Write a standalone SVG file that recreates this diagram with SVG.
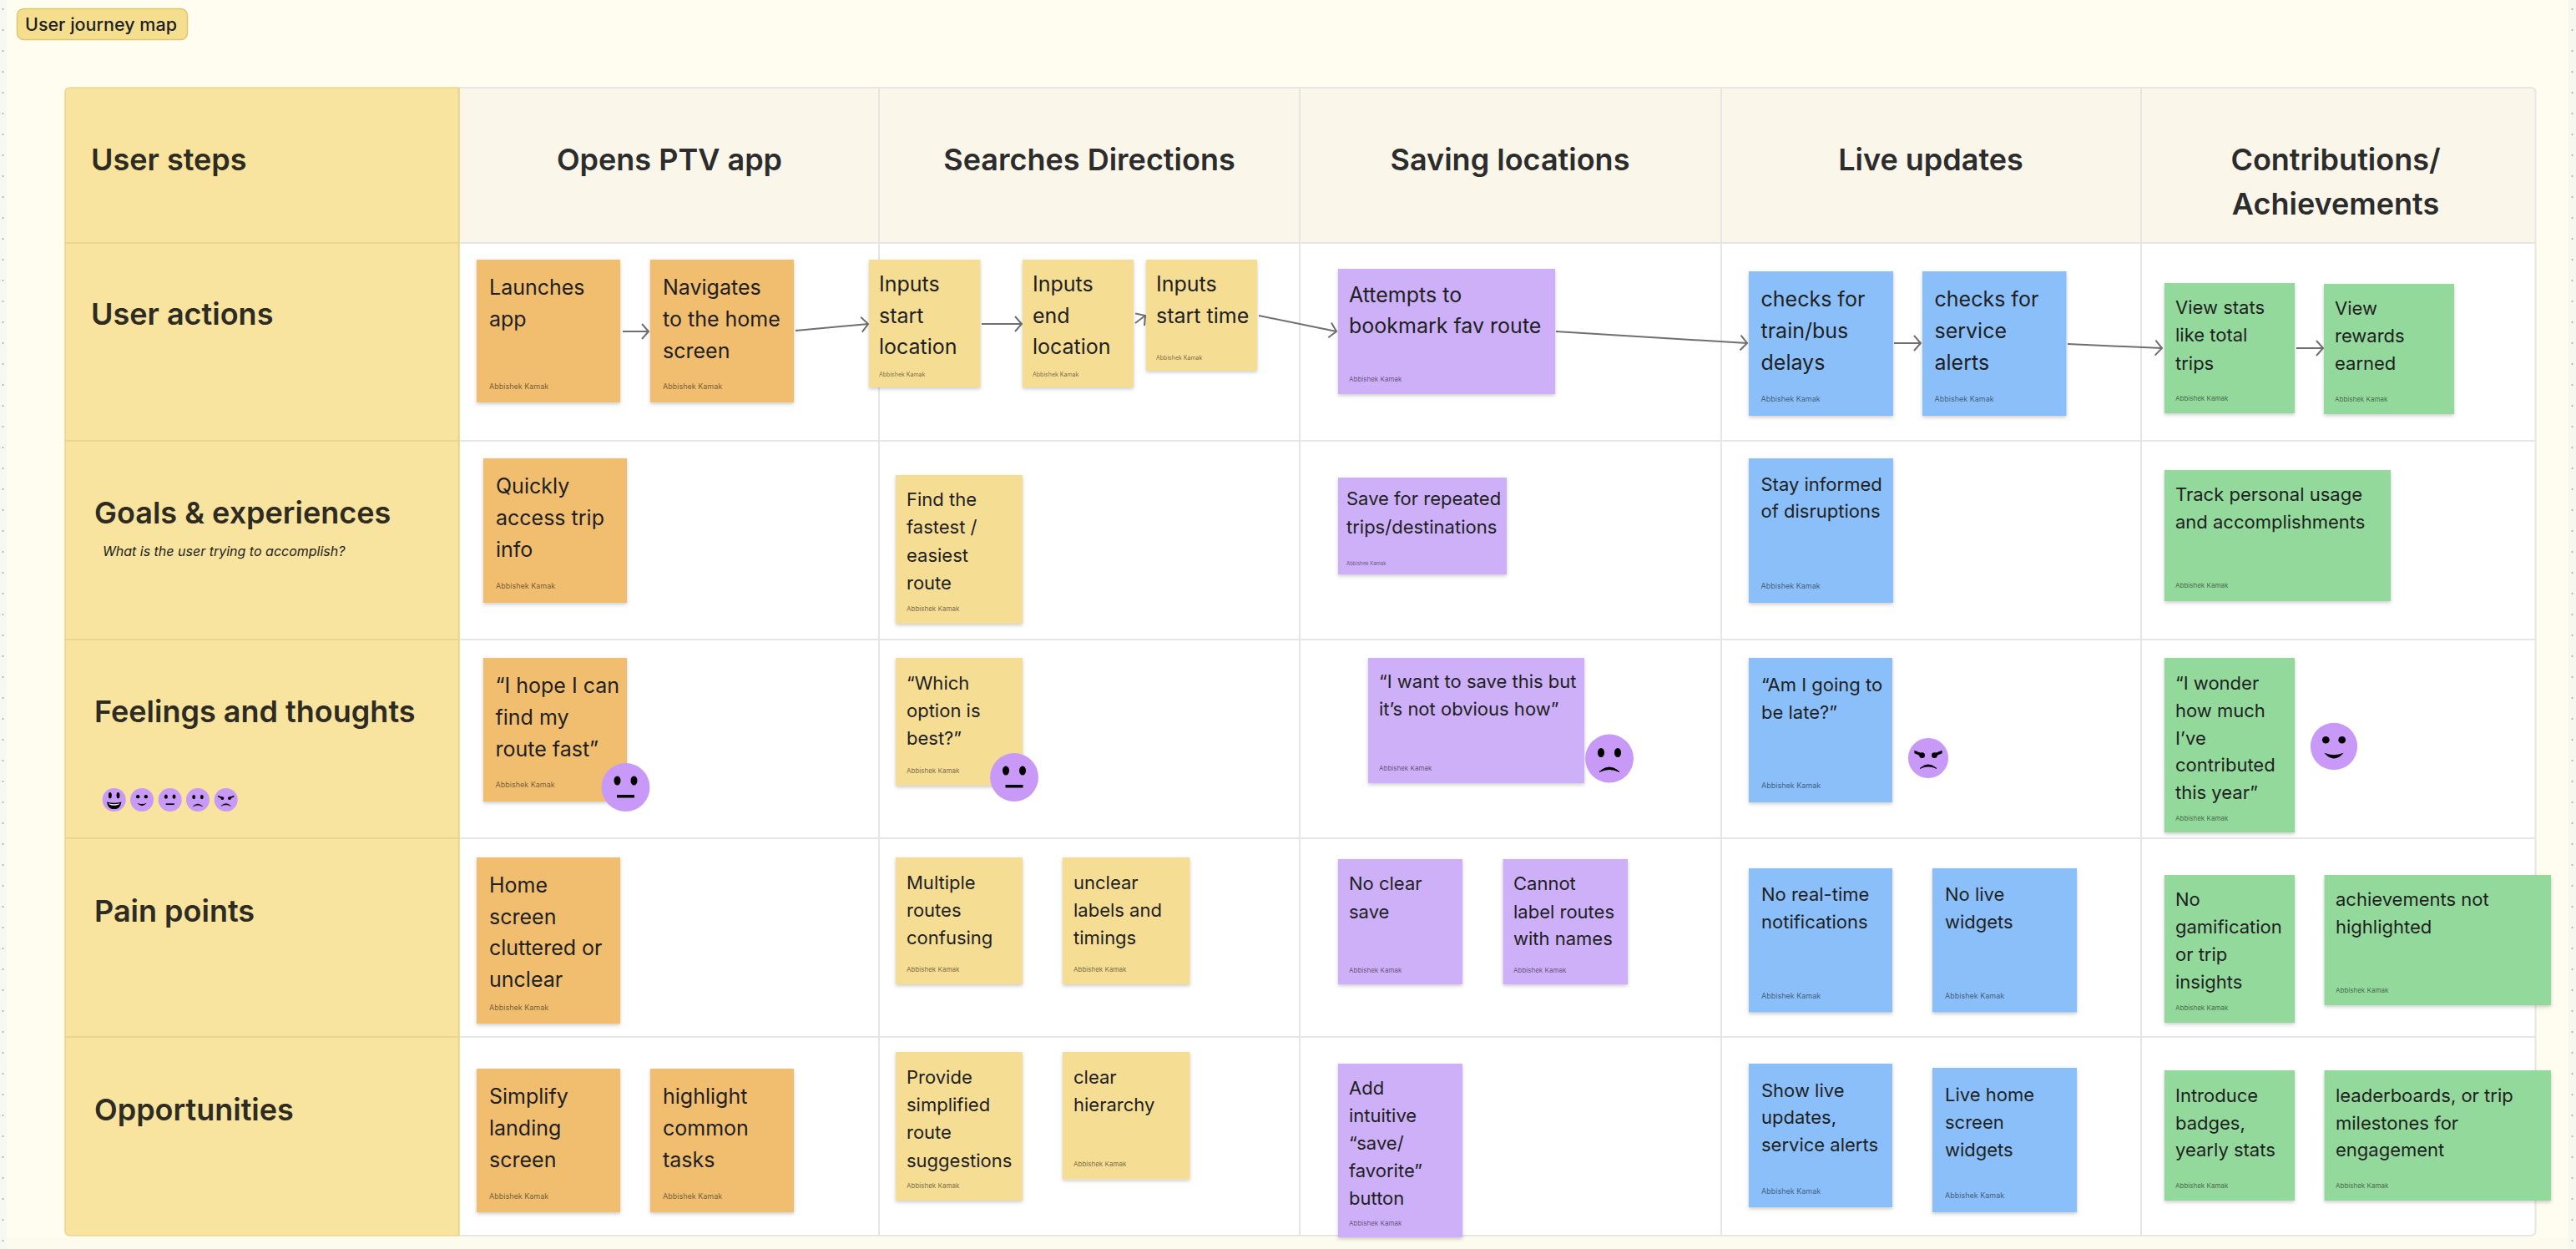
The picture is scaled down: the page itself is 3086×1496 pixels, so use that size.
<svg xmlns="http://www.w3.org/2000/svg" xmlns:xlink="http://www.w3.org/1999/xlink" width="3086" height="1496" viewBox="0 0 3086 1496">
<style>
text{font-family:Inter,"Noto Sans","Liberation Sans",sans-serif;fill:#211f1f}
.h{font-size:36px;font-weight:600;fill:#2e2b22}
.c{font-size:36px;font-weight:600;fill:#2c2c2c;text-anchor:middle}
.a{font-size:25px}
.b{font-size:22px}
.au{font-size:9px;fill:#000;fill-opacity:.55}
.au2{font-size:8px;fill:#000;fill-opacity:.55}
.au3{font-size:7px;fill:#000;fill-opacity:.55}
.au4{font-size:6px;fill:#000;fill-opacity:.55}
.or{fill:#f1be6f;filter:url(#sh)}
.ye{fill:#f6dd94;filter:url(#sh)}
.pu{fill:#cdb0f8;filter:url(#sh)}
.bl{fill:#8abffa;filter:url(#sh)}
.gr{fill:#93d99c;filter:url(#sh)}
.grid{stroke:#e6e6e4;stroke-width:2;fill:none}
.ygrid{stroke:#e9d68f;stroke-width:2;fill:none}
.conn{stroke:#6f6f6f;stroke-width:2;fill:none;marker-end:url(#arr)}
.fc{fill:#c999f7}
.k{fill:#000}
.ks{stroke:#000;fill:none;stroke-linecap:round}
</style>
<defs>
<filter id="sh" x="-10%" y="-10%" width="120%" height="120%"><feDropShadow dx="0" dy="2" stdDeviation="2" flood-color="#000" flood-opacity=".2"/></filter>
<marker id="arr" markerUnits="userSpaceOnUse" markerWidth="14" markerHeight="24" refX="12" refY="12" orient="auto"><path d="M4 3 L12 12 L4 21" fill="none" stroke="#6f6f6f" stroke-width="2"/></marker>
<pattern id="dots" x="0" y="10" width="9" height="25" patternUnits="userSpaceOnUse"><circle cx="3.5" cy="1" r="1" fill="#a8a8a8"/></pattern>
<g id="f-neutral"><circle r="29" class="fc"/><ellipse cx="-10" cy="-8" rx="4" ry="5.5" class="k"/><ellipse cx="10" cy="-8" rx="4" ry="5.5" class="k"/><rect x="-10.500" y="9" width="21" height="3.500" class="k"/></g>
<g id="f-sad"><circle r="29" class="fc"/><ellipse cx="-10" cy="-7" rx="4" ry="5.500" class="k"/><ellipse cx="10" cy="-7" rx="4" ry="5.500" class="k"/><path d="M-12 16 Q0 5 12 16 Q0 10 -12 16Z" class="k" stroke="#000" stroke-width="1"/></g>
<g id="f-happy"><circle r="29" class="fc"/><circle cx="-10" cy="-8" r="4.500" class="k"/><circle cx="10" cy="-8" r="4.500" class="k"/><path d="M-12 8 Q0 13 12 8 Q0 22 -12 8Z" class="k"/></g>
<g id="f-angry"><circle r="29" class="fc"/><path d="M-20 -11 L-5 -5 L-6 -1 L-20 -7Z M20 -11 L5 -5 L6 -1 L20 -7Z" class="k"/><circle cx="-9" cy="-4" r="4" class="k"/><circle cx="9" cy="-4" r="4" class="k"/><path d="M-12 15 Q0 4 12 15 Q0 9 -12 15Z" class="k" stroke="#000" stroke-width="1"/></g>
<g id="f-grin"><circle r="29" class="fc"/><ellipse cx="-10" cy="-11" rx="4" ry="7.500" class="k"/><ellipse cx="10" cy="-11" rx="4" ry="7.500" class="k"/><path d="M-18 5 Q0 11 18 5 Q16 23 0 23 Q-16 23 -18 5Z" class="k"/><path d="M-14 9 Q0 13 14 9 Q12 14 0 14 Q-12 14 -14 9Z" fill="#fff"/></g>
</defs>

<rect id="page" width="3086" height="1496" fill="#fffdf0"/>
<rect x="0" y="1482" width="3086" height="14" fill="#fdfaee"/>
<rect x="0" y="0" width="8" height="1496" fill="#f7f7f3"/>
<rect x="3077" y="0" width="9" height="1496" fill="#f7f6f0"/>
<rect x="0" y="0" width="8" height="1496" fill="url(#dots)"/>
<rect x="3077" y="0" width="9" height="1496" fill="url(#dots)" transform="translate(0 0)"/>

<g id="title"><rect x="20.500" y="10.500" width="204" height="37" rx="8" fill="#f5df8e" stroke="#dcc676" stroke-width="1.500"/><text x="30" y="37" style="font-size:21.500px;font-weight:500">User journey map</text></g>

<g id="table">
<rect x="549" y="105" width="2488.500" height="1375" rx="6" fill="#fff"/>
<path d="M550 105 H3031.500 Q3037.500 105 3037.500 111 V291 H550Z" fill="#faf6ea"/>
<path d="M550 105 H84 Q78 105 78 111 V1474 Q78 1480 84 1480 H550Z" fill="#f8e49e" stroke="#e9d68f" stroke-width="1.500"/>
<path class="ygrid" d="M78 291 H550 M78 528 H550 M78 766 H550 M78 1004 H550 M78 1242 H550"/>
<path class="grid" d="M550 105 H3031.500 Q3037.500 105 3037.500 111 V1474 Q3037.500 1480 3031.500 1480 H550"/>
<path class="grid" d="M550 291 H3037 M550 528 H3037 M550 766 H3037 M550 1004 H3037 M550 1242 H3037"/>
<path class="grid" stroke-width="1.500" d="M1053 105 V1480 M1557 105 V1480 M2062 105 V1480 M2565 105 V1480"/>
<path class="ygrid" d="M549.500 105 V1480"/>
</g>

<g id="row-headers">
<text class="h" x="109" y="204">User steps</text>
<text class="h" x="109" y="389">User actions</text>
<text class="h" x="113" y="627">Goals &amp; experiences</text>
<text x="123" y="666" style="font-size:16px;font-style:italic">What is the user trying to accomplish?</text>
<text class="h" x="113" y="865">Feelings and thoughts</text>
<text class="h" x="113" y="1104">Pain points</text>
<text class="h" x="113" y="1342">Opportunities</text>
</g>
<g id="legend">
<use xlink:href="#f-grin" href="#f-grin" transform="translate(136.700 958) scale(.483)"/>
<use xlink:href="#f-happy" href="#f-happy" transform="translate(170 958) scale(.483)"/>
<use xlink:href="#f-neutral" href="#f-neutral" transform="translate(203.700 958) scale(.483)"/>
<use xlink:href="#f-sad" href="#f-sad" transform="translate(237 958) scale(.483)"/>
<use xlink:href="#f-angry" href="#f-angry" transform="translate(270.700 958) scale(.483)"/>
</g>
<g id="col-headers">
<text class="c" x="802" y="204">Opens PTV app</text>
<text class="c" x="1305" y="204">Searches Directions</text>
<text class="c" x="1809" y="204">Saving locations</text>
<text class="c" x="2313" y="204">Live updates</text>
<text class="c" x="2798" y="204">Contributions/</text>
<text class="c" x="2798" y="257">Achievements</text>
</g>

<g id="connectors">
<path class="conn" d="M746 397 H777"/>
<path class="conn" d="M953 396 L1040 388"/>
<path class="conn" d="M1176 388 H1224"/>
<path class="conn" d="M1360 387 L1372 378"/>
<path class="conn" d="M1508 378 L1601 397"/>
<path class="conn" d="M1864 397 L2093 411"/>
<path class="conn" d="M2269 411 H2301"/>
<path class="conn" d="M2477 412 L2590 417"/>
<path class="conn" d="M2751 417 H2783"/>
</g>

<g id="n-launches"><rect class="or" x="571" y="311" width="172" height="171"/><text class="a" x="586"><tspan x="586" y="353">Launches</tspan><tspan x="586" y="391">app</tspan></text><text class="au" x="586" y="465.500">Abbishek Kamak</text></g>
<g id="n-navigates"><rect class="or" x="779" y="311" width="172" height="171"/><text class="a"><tspan x="794" y="353">Navigates</tspan><tspan x="794" y="391">to the home</tspan><tspan x="794" y="429">screen</tspan></text><text class="au" x="794" y="465.500">Abbishek Kamak</text></g>
<g id="n-input-start"><rect class="ye" x="1041" y="311" width="133.500" height="153"/><text class="a"><tspan x="1053" y="349">Inputs</tspan><tspan x="1053" y="387">start</tspan><tspan x="1053" y="424">location</tspan></text><text class="au3" x="1053" y="451">Abbishek Kamak</text></g>
<g id="n-input-end"><rect class="ye" x="1225" y="311" width="133" height="153"/><text class="a"><tspan x="1237" y="349">Inputs</tspan><tspan x="1237" y="387">end</tspan><tspan x="1237" y="424">location</tspan></text><text class="au3" x="1237" y="451">Abbishek Kamak</text></g>
<g id="n-input-time"><rect class="ye" x="1373" y="311" width="133" height="133"/><text class="a"><tspan x="1385" y="349">Inputs</tspan><tspan x="1385" y="387">start time</tspan></text><text class="au3" x="1385" y="431">Abbishek Kamak</text></g>
<g id="n-attempts"><rect class="pu" x="1603" y="322" width="260" height="150"/><text class="a"><tspan x="1616" y="362">Attempts to</tspan><tspan x="1616" y="399">bookmark fav route</tspan></text><text class="au2" x="1616" y="457">Abbishek Kamak</text></g>
<g id="n-checks-delays"><rect class="bl" x="2095" y="325" width="173" height="173"/><text class="a"><tspan x="2109.500" y="367">checks for</tspan><tspan x="2109.500" y="405">train/bus</tspan><tspan x="2109.500" y="443">delays</tspan></text><text class="au" x="2109.500" y="481">Abbishek Kamak</text></g>
<g id="n-checks-alerts"><rect class="bl" x="2303" y="325" width="172.500" height="173"/><text class="a"><tspan x="2317.500" y="367">checks for</tspan><tspan x="2317.500" y="405">service</tspan><tspan x="2317.500" y="443">alerts</tspan></text><text class="au" x="2317.500" y="481">Abbishek Kamak</text></g>
<g id="n-view-stats"><rect class="gr" x="2593" y="339" width="156" height="156"/><text class="b"><tspan x="2606" y="376">View stats</tspan><tspan x="2606" y="409">like total</tspan><tspan x="2606" y="443">trips</tspan></text><text class="au2" x="2606" y="480">Abbishek Kamak</text></g>
<g id="n-view-rewards"><rect class="gr" x="2784" y="340" width="156" height="156"/><text class="b"><tspan x="2797" y="377">View</tspan><tspan x="2797" y="410">rewards</tspan><tspan x="2797" y="443">earned</tspan></text><text class="au2" x="2797" y="481">Abbishek Kamak</text></g>

<g id="n-quickly"><rect class="or" x="579" y="549" width="172" height="173"/><text class="a"><tspan x="594" y="591">Quickly</tspan><tspan x="594" y="629">access trip</tspan><tspan x="594" y="667">info</tspan></text><text class="au" x="594" y="705">Abbishek Kamak</text></g>
<g id="n-find"><rect class="ye" x="1073" y="569" width="152" height="178"/><text class="b"><tspan x="1086" y="606">Find the</tspan><tspan x="1086" y="639">fastest /</tspan><tspan x="1086" y="673">easiest</tspan><tspan x="1086" y="706">route</tspan></text><text class="au2" x="1086" y="732">Abbishek Kamak</text></g>
<g id="n-save"><rect class="pu" x="1603" y="572" width="202" height="116"/><text class="b"><tspan x="1613" y="605">Save for repeated</tspan><tspan x="1613" y="639">trips/destinations</tspan></text><text class="au4" x="1613" y="677">Abbishek Kamak</text></g>
<g id="n-stay"><rect class="bl" x="2095" y="549" width="173" height="173"/><text class="b"><tspan x="2109.500" y="588">Stay informed</tspan><tspan x="2109.500" y="620">of disruptions</tspan></text><text class="au" x="2109.500" y="705">Abbishek Kamak</text></g>
<g id="n-track"><rect class="gr" x="2593" y="563" width="271" height="157"/><text class="b"><tspan x="2606" y="600">Track personal usage</tspan><tspan x="2606" y="633">and accomplishments</tspan></text><text class="au2" x="2606" y="704">Abbishek Kamak</text></g>

<g id="n-hope"><rect class="or" x="579" y="788" width="172" height="172"/><text class="a"><tspan x="593.500" y="830">“I hope I can</tspan><tspan x="593.500" y="868">find my</tspan><tspan x="593.500" y="905.500">route fast”</tspan></text><text class="au" x="593.500" y="943">Abbishek Kamak</text></g>
<g id="face-1"><use xlink:href="#f-neutral" href="#f-neutral" transform="translate(749.500 943)"/></g>
<g id="n-which"><rect class="ye" x="1073" y="788" width="152" height="153"/><text class="b"><tspan x="1086" y="825.500">“Which</tspan><tspan x="1086" y="859">option is</tspan><tspan x="1086" y="892">best?”</tspan></text><text class="au2" x="1086" y="925.500">Abbishek Kamak</text></g>
<g id="face-2"><use xlink:href="#f-neutral" href="#f-neutral" transform="translate(1215 931)"/></g>
<g id="n-want"><rect class="pu" x="1639" y="788" width="259" height="150"/><text class="b"><tspan x="1652" y="824">“I want to save this but</tspan><tspan x="1652" y="857">it’s not obvious how”</tspan></text><text class="au2" x="1652" y="923">Abbishek Kamak</text></g>
<g id="face-3"><use xlink:href="#f-sad" href="#f-sad" transform="translate(1928 908.500)"/></g>
<g id="n-late"><rect class="bl" x="2095" y="788" width="172" height="173"/><text class="b"><tspan x="2110" y="828">“Am I going to</tspan><tspan x="2110" y="861">be late?”</tspan></text><text class="au" x="2110" y="944">Abbishek Kamak</text></g>
<g id="face-4"><use xlink:href="#f-angry" href="#f-angry" transform="translate(2310 908) scale(.83)"/></g>
<g id="n-wonder"><rect class="gr" x="2593" y="788" width="156" height="209"/><text class="b"><tspan x="2606" y="826">“I wonder</tspan><tspan x="2606" y="858.500">how much</tspan><tspan x="2606" y="891.500">I’ve</tspan><tspan x="2606" y="924">contributed</tspan><tspan x="2606" y="957">this year”</tspan></text><text class="au2" x="2606" y="982.500">Abbishek Kamak</text></g>
<g id="face-5"><use xlink:href="#f-happy" href="#f-happy" transform="translate(2796 894) scale(.97)"/></g>

<g id="n-home"><rect class="or" x="571" y="1027" width="172" height="199"/><text class="a"><tspan x="586" y="1069">Home</tspan><tspan x="586" y="1106.500">screen</tspan><tspan x="586" y="1144">cluttered or</tspan><tspan x="586" y="1181.500">unclear</tspan></text><text class="au" x="586" y="1210">Abbishek Kamak</text></g>
<g id="n-multiple"><rect class="ye" x="1073" y="1027" width="152" height="152"/><text class="b"><tspan x="1086" y="1064.500">Multiple</tspan><tspan x="1086" y="1098">routes</tspan><tspan x="1086" y="1131">confusing</tspan></text><text class="au2" x="1086" y="1164">Abbishek Kamak</text></g>
<g id="n-unclear"><rect class="ye" x="1273" y="1027" width="152.500" height="152"/><text class="b"><tspan x="1286" y="1064.500">unclear</tspan><tspan x="1286" y="1098">labels and</tspan><tspan x="1286" y="1131">timings</tspan></text><text class="au2" x="1286" y="1164">Abbishek Kamak</text></g>
<g id="n-noclear"><rect class="pu" x="1603" y="1029" width="149" height="150"/><text class="b"><tspan x="1616" y="1066">No clear</tspan><tspan x="1616" y="1099.500">save</tspan></text><text class="au2" x="1616" y="1164.500">Abbishek Kamak</text></g>
<g id="n-cannot"><rect class="pu" x="1800.500" y="1029" width="149.500" height="150"/><text class="b"><tspan x="1813" y="1066">Cannot</tspan><tspan x="1813" y="1099.500">label routes</tspan><tspan x="1813" y="1132">with names</tspan></text><text class="au2" x="1813" y="1164.500">Abbishek Kamak</text></g>
<g id="n-noreal"><rect class="bl" x="2095" y="1040" width="172" height="172.500"/><text class="b"><tspan x="2110" y="1079">No real-time</tspan><tspan x="2110" y="1112">notifications</tspan></text><text class="au" x="2110" y="1196">Abbishek Kamak</text></g>
<g id="n-nolive"><rect class="bl" x="2315" y="1040" width="173" height="172.500"/><text class="b"><tspan x="2330" y="1079">No live</tspan><tspan x="2330" y="1112">widgets</tspan></text><text class="au" x="2330" y="1196">Abbishek Kamak</text></g>
<g id="n-gamif"><rect class="gr" x="2593" y="1048" width="156" height="177"/><text class="b"><tspan x="2606" y="1085">No</tspan><tspan x="2606" y="1118">gamification</tspan><tspan x="2606" y="1151">or trip</tspan><tspan x="2606" y="1184">insights</tspan></text><text class="au2" x="2606" y="1210">Abbishek Kamak</text></g>
<g id="n-achieve"><rect class="gr" x="2784.500" y="1048" width="271.500" height="156"/><text class="b"><tspan x="2798" y="1085">achievements not</tspan><tspan x="2798" y="1118">highlighted</tspan></text><text class="au2" x="2798" y="1189">Abbishek Kamak</text></g>

<g id="n-simplify"><rect class="or" x="571" y="1280" width="172" height="172"/><text class="a"><tspan x="586" y="1322">Simplify</tspan><tspan x="586" y="1360">landing</tspan><tspan x="586" y="1397.500">screen</tspan></text><text class="au" x="586" y="1436">Abbishek Kamak</text></g>
<g id="n-highlight"><rect class="or" x="779" y="1280" width="172" height="172"/><text class="a"><tspan x="794" y="1322">highlight</tspan><tspan x="794" y="1360">common</tspan><tspan x="794" y="1397.500">tasks</tspan></text><text class="au" x="794" y="1436">Abbishek Kamak</text></g>
<g id="n-provide"><rect class="ye" x="1073" y="1260" width="152" height="178"/><text class="b"><tspan x="1086" y="1298">Provide</tspan><tspan x="1086" y="1331">simplified</tspan><tspan x="1086" y="1364">route</tspan><tspan x="1086" y="1398">suggestions</tspan></text><text class="au2" x="1086" y="1423">Abbishek Kamak</text></g>
<g id="n-clear"><rect class="ye" x="1273" y="1260" width="152.500" height="152.500"/><text class="b"><tspan x="1286" y="1298">clear</tspan><tspan x="1286" y="1331">hierarchy</tspan></text><text class="au2" x="1286" y="1397">Abbishek Kamak</text></g>
<g id="n-add"><rect class="pu" x="1603" y="1274" width="149" height="208"/><text class="b"><tspan x="1616" y="1311">Add</tspan><tspan x="1616" y="1344">intuitive</tspan><tspan x="1616" y="1377">“save/</tspan><tspan x="1616" y="1410">favorite”</tspan><tspan x="1616" y="1443">button</tspan></text><text class="au2" x="1616" y="1468">Abbishek Kamak</text></g>
<g id="n-show"><rect class="bl" x="2095" y="1274" width="172" height="172"/><text class="b"><tspan x="2110" y="1313.500">Show live</tspan><tspan x="2110" y="1346">updates,</tspan><tspan x="2110" y="1379">service alerts</tspan></text><text class="au" x="2110" y="1430">Abbishek Kamak</text></g>
<g id="n-livehome"><rect class="bl" x="2315" y="1279" width="173" height="173"/><text class="b"><tspan x="2330" y="1319">Live home</tspan><tspan x="2330" y="1352">screen</tspan><tspan x="2330" y="1385">widgets</tspan></text><text class="au" x="2330" y="1435">Abbishek Kamak</text></g>
<g id="n-introduce"><rect class="gr" x="2593" y="1282" width="156" height="156"/><text class="b"><tspan x="2606" y="1320">Introduce</tspan><tspan x="2606" y="1352.500">badges,</tspan><tspan x="2606" y="1385">yearly stats</tspan></text><text class="au2" x="2606" y="1423">Abbishek Kamak</text></g>
<g id="n-leader"><rect class="gr" x="2784.500" y="1282" width="271.500" height="156"/><text class="b"><tspan x="2798" y="1320">leaderboards, or trip</tspan><tspan x="2798" y="1352.500">milestones for</tspan><tspan x="2798" y="1385">engagement</tspan></text><text class="au2" x="2798" y="1423">Abbishek Kamak</text></g>
</svg>
